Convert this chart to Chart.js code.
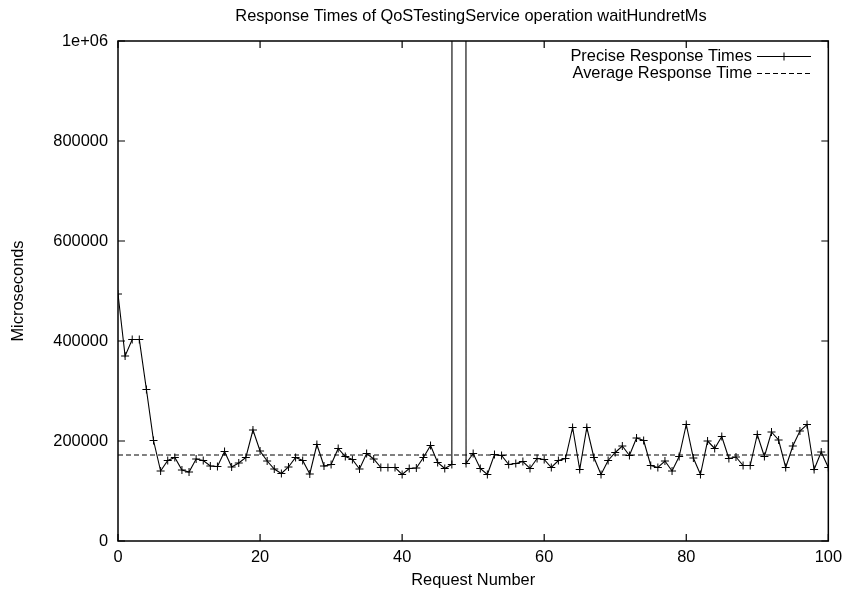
<!DOCTYPE html>
<html>
<head>
<meta charset="utf-8">
<script src="https://cdn.jsdelivr.net/npm/chart.js@4/dist/chart.umd.min.js"></script>
<style>
  html, body { margin: 0; padding: 0; background: #fff; }
  canvas { display: block; }
</style>
</head>
<body>
<canvas id="myChart" width="849" height="595"></canvas>
<script>
var chartTitle = "Response Times of QoSTestingService operation waitHundretMs";
var xTitle = "Request Number";
var yTitle = "Microseconds";
var seriesNames = ["Precise Response Times", "Average Response Time"];

// request numbers 0..100
var requestNumbers = Array.from({ length: 101 }, function (_, i) { return i; });

// response time per request (microseconds)
var responseTimes = [
  494000, 370000, 403000, 403000, 303000, 201000, 140000, 161000, 167000, 142000,
  138000, 164000, 161000, 150000, 149000, 179000, 148000, 156000, 167000, 222000,
  180000, 160000, 144000, 135000, 148000, 167000, 161000, 134000, 193000, 150000,
  153000, 185000, 169000, 163000, 144000, 175000, 164000, 147000, 147000, 147000,
  133000, 145000, 146000, 167000, 191000, 157000, 145000, 153000, 60000000, 155000,
  175000, 145000, 133000, 173000, 171000, 153000, 155000, 159000, 145000, 165000,
  163000, 147000, 161000, 165000, 227000, 143000, 227000, 167000, 133000, 161000,
  177000, 190000, 171000, 206000, 201000, 151000, 147000, 160000, 140000, 169000,
  233000, 166000, 133000, 200000, 185000, 209000, 165000, 168000, 151000, 151000,
  213000, 169000, 218000, 202000, 147000, 190000, 220000, 233000, 143000, 178000,
  147000
];

var averageTime = 172000;

var xTicks = [0, 20, 40, 60, 80, 100];
var yTicks = [0, 200000, 400000, 600000, 800000, 1000000];

var FONT = "'Liberation Sans', Arial, Helvetica, sans-serif";
var FSIZE = 16.4;

// gnuplot style frame, inward ticks, title and legend
var gnuplotFrame = {
  id: "gnuplotFrame",
  afterDraw: function (chart) {
    var c = chart.ctx;
    var a = chart.chartArea;
    var xs = chart.scales.x;
    var ys = chart.scales.y;
    c.save();
    c.strokeStyle = "#000";
    c.lineWidth = 1.5;
    c.strokeRect(a.left, a.top, a.right - a.left, a.bottom - a.top);
    c.lineWidth = 1.2;
    c.beginPath();
    xTicks.forEach(function (v) {
      var px = xs.getPixelForValue(v);
      c.moveTo(px, a.bottom);
      c.lineTo(px, a.bottom - 7);
      c.moveTo(px, a.top);
      c.lineTo(px, a.top + 7);
    });
    yTicks.forEach(function (v) {
      var py = ys.getPixelForValue(v);
      c.moveTo(a.left, py);
      c.lineTo(a.left + 7, py);
      c.moveTo(a.right, py);
      c.lineTo(a.right - 7, py);
    });
    c.stroke();

    // title
    c.fillStyle = "#000";
    c.font = FSIZE + "px " + FONT;
    c.textAlign = "center";
    c.textBaseline = "alphabetic";
    c.fillText(chartTitle, 471, 21);

    // legend
    c.textAlign = "right";
    c.textBaseline = "middle";
    c.fillText(seriesNames[0], 752, 56);
    c.fillText(seriesNames[1], 752, 73);
    c.lineWidth = 1;
    c.beginPath();
    c.moveTo(757, 56.5);
    c.lineTo(811, 56.5);
    c.moveTo(784, 52.5);
    c.lineTo(784, 60.5);
    c.stroke();
    c.setLineDash([5, 3]);
    c.beginPath();
    c.moveTo(757, 73.5);
    c.lineTo(811, 73.5);
    c.stroke();
    c.restore();
  }
};

var ctx = document.getElementById("myChart");
var myChart = new Chart(ctx, {
  type: "line",
  data: {
    labels: requestNumbers,
    datasets: [
      {
        label: seriesNames[0],
        data: responseTimes,
        borderColor: "#000",
        borderWidth: 1.1,
        lineTension: 0,
        pointStyle: "cross",
        pointRadius: 4,
        pointBorderWidth: 1,
        pointBorderColor: "#000",
        pointBackgroundColor: "#000",
      },
      {
        label: seriesNames[1],
        data: requestNumbers.map(function () { return averageTime; }),
        borderColor: "#000",
        borderWidth: 1,
        borderDash: [5, 3],
        pointRadius: 0,
        lineTension: 0,
      },
    ],
  },
  options: {
    responsive: false,
    animation: false,
    layout: { padding: { top: 41, right: 17, bottom: 0, left: 0 } },
    plugins: {
      legend: { display: false },
      title: { display: false },
      tooltip: { enabled: false },
    },
    scales: {
      x: {
        type: "linear",
        min: 0,
        max: 100,
        afterFit: function (s) { s.height = 54; },
        afterBuildTicks: function (s) {
          s.ticks = xTicks.map(function (v) { return { value: v }; });
        },
        grid: { display: false, drawTicks: false },
        border: { display: false },
        ticks: {
          color: "#000",
          padding: 7,
          maxRotation: 0,
          autoSkip: false,
          font: { family: FONT, size: FSIZE },
        },
        title: {
          display: true,
          text: xTitle,
          color: "#000",
          padding: { top: 0, bottom: 5 },
          font: { family: FONT, size: FSIZE },
        },
      },
      y: {
        min: 0,
        max: 1000000,
        afterFit: function (s) { s.width = 118; },
        afterBuildTicks: function (s) {
          s.ticks = yTicks.map(function (v) { return { value: v }; });
        },
        grid: { display: false, drawTicks: false },
        border: { display: false },
        ticks: {
          color: "#000",
          padding: 10,
          font: { family: FONT, size: FSIZE },
          callback: function (v) { return v === 1000000 ? "1e+06" : String(v); },
        },
        title: {
          display: true,
          text: yTitle,
          color: "#000",
          padding: { top: 9, bottom: 0 },
          font: { family: FONT, size: FSIZE },
        },
      },
    },
  },
  plugins: [gnuplotFrame],
});
</script>
</body>
</html>
